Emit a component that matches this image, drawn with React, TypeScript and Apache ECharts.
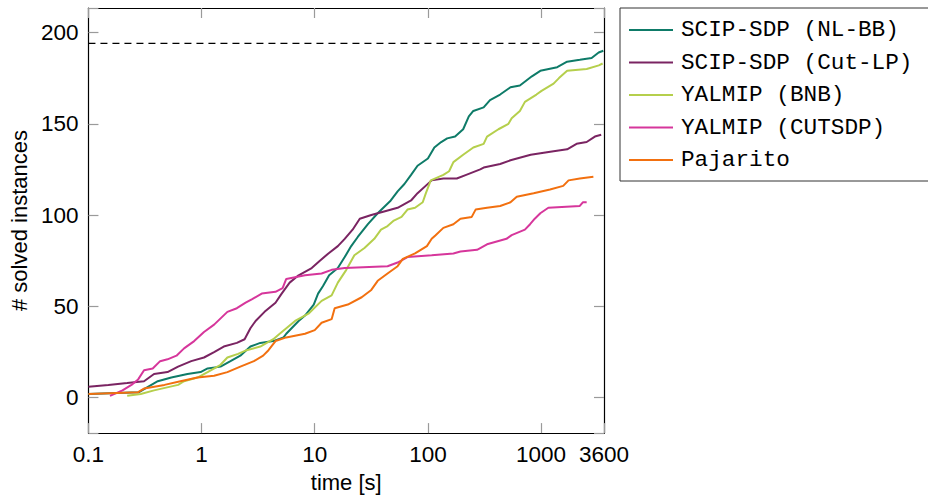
import React, { useEffect, useRef } from "react";
import * as echarts from "echarts";

const seriesNames = ["SCIP-SDP (NL-BB)", "SCIP-SDP (Cut-LP)", "YALMIP (BNB)", "YALMIP (CUTSDP)", "Pajarito"];
const seriesColors = ["#0e7b68", "#7a2462", "#b5cf4c", "#d6369b", "#f2700f"];

const nlbb: [number, number][] = [
  [0.1, 2], [0.28, 3], [0.36, 7], [0.41, 9], [0.54, 11], [0.75, 13], [0.98, 14], [1.13, 16], [1.47, 17],
  [1.8, 20], [2.2, 23], [2.7, 28], [3.3, 30], [4.3, 31], [5.3, 33], [5.6, 35], [7.2, 42], [8.2, 45],
  [9.8, 51], [10.7, 57], [11.8, 61], [13.4, 67], [16, 71], [18.4, 77], [21, 83], [24, 88], [29.5, 95],
  [36, 101], [47, 108], [54, 113], [62, 117], [71, 122], [81, 127], [100, 131], [114, 137], [131, 140],
  [148, 142], [174, 143], [205, 147], [230, 154], [252, 157], [311, 159], [354, 163], [435, 166],
  [537, 170], [650, 171], [830, 176], [985, 179], [1390, 181], [1700, 184], [2200, 185], [2800, 186],
  [3230, 189], [3550, 190],
];

const cutlp: [number, number][] = [
  [0.1, 6], [0.15, 7], [0.22, 8], [0.31, 9], [0.38, 13], [0.5, 14], [0.62, 17], [0.81, 20], [1.05, 22],
  [1.29, 25], [1.57, 28], [2.05, 30], [2.4, 32], [2.7, 38], [3, 42], [3.6, 47], [4.5, 52], [5.1, 57],
  [6, 63], [7.2, 67], [9.4, 71], [11.1, 75], [13.2, 79], [16, 83], [18.4, 87], [21.6, 92], [25, 98],
  [31.6, 100], [41, 102], [54, 104], [71, 108], [81, 112], [108, 119], [137, 120], [180, 120], [218, 122],
  [290, 125], [311, 126], [435, 128], [537, 130], [810, 133], [1290, 135], [1700, 136], [2060, 139],
  [2530, 140], [2990, 143], [3400, 144],
];

const bnb: [number, number][] = [
  [0.22, 1], [0.29, 2], [0.38, 4], [0.62, 7], [0.7, 9], [0.92, 11], [1.13, 14], [1.47, 18], [1.69, 22],
  [2.1, 24], [2.5, 26], [3.3, 28], [4.3, 32], [4.9, 35], [6.7, 42], [8.8, 46], [11.5, 53], [14.1, 56],
  [16, 63], [19, 70], [22.4, 78], [27.5, 82], [33.6, 87], [38.5, 92], [44, 94], [50, 97], [58.5, 99],
  [66, 103], [77, 104], [90, 107], [96, 112], [106, 119], [137, 122], [154, 124], [168, 129], [205, 133],
  [252, 137], [311, 139], [333, 143], [420, 147], [515, 150], [550, 153], [650, 157], [720, 162],
  [910, 166], [1010, 168], [1290, 172], [1440, 175], [1700, 179], [2530, 180], [3240, 182], [3500, 183],
];

const cutsdp: [number, number][] = [
  [0.155, 1], [0.2, 4], [0.24, 7], [0.275, 10], [0.31, 15], [0.37, 16], [0.43, 20], [0.5, 21], [0.6, 23],
  [0.7, 27], [0.86, 31], [1.05, 36], [1.29, 40], [1.69, 47], [2.05, 49], [2.45, 52], [2.8, 54], [3.4, 57],
  [4.5, 58], [5.2, 60], [5.6, 65], [8.2, 67], [11.5, 68], [14.1, 70], [18.4, 71], [44, 72], [54, 74],
  [66, 77], [108, 78], [168, 79], [194, 80], [272, 81], [333, 84], [495, 87], [550, 89], [720, 92],
  [800, 95], [880, 98], [985, 101], [1160, 104], [2200, 105], [2340, 107], [2530, 107],
];

const pajarito: [number, number][] = [
  [0.1, 2], [0.275, 3], [0.31, 5], [0.47, 7], [0.65, 9], [0.92, 11], [1.29, 12], [1.69, 14], [2.2, 17],
  [2.9, 20], [3.5, 23], [3.9, 26], [4.5, 31], [5.6, 33], [8.2, 35], [10, 37], [11.5, 41], [14.1, 43],
  [15, 49], [19.6, 51], [26, 55], [31.6, 59], [36, 64], [44, 68], [54, 72], [60, 76], [77, 79], [98, 83],
  [108, 87], [117, 89], [137, 93], [168, 95], [194, 98], [244, 99], [264, 103], [333, 104], [435, 105],
  [537, 107], [610, 110], [860, 112], [1200, 114], [1570, 116], [1750, 119], [2200, 120], [2900, 121],
];

const seriesData = [nlbb, cutlp, bnb, cutsdp, pajarito];

const totalInstances = 194;
const xMin = 0.1;
const xMax = 3600;
const yMin = -19.4;
const yMax = 213.4;
const xTickLabels = [0.1, 1, 10, 100, 1000, 3600];
const yTickLabels = [0, 50, 100, 150, 200];

const sansFont = "'Liberation Sans', Arial, Helvetica, sans-serif";
const monoFont = "'Liberation Mono', 'DejaVu Sans Mono', monospace";

export default function App() {
  const ref = useRef<HTMLDivElement>(null);

  useEffect(() => {
    if (!ref.current) return;
    const chart = echarts.init(ref.current, null, { renderer: "svg" });

    const axisLine = { show: true, onZero: false, lineStyle: { color: "#000", width: 1.2 } };
    const axisTick = { show: true, inside: true, length: 10, lineStyle: { color: "#9a9a9a", width: 1.2 } };
    const tickStyle = { fontFamily: sansFont, fontSize: 22.5, color: "#000" };
    const nameStyle = { fontFamily: sansFont, fontSize: 22, color: "#000" };

    const xFormatter = (v: number) => {
      const r = +Number(v).toPrecision(6);
      return xTickLabels.includes(r) ? String(r) : "";
    };
    const yFormatter = (v: number) => {
      const r = Math.round(v * 1000) / 1000;
      return yTickLabels.includes(r) ? String(r) : "";
    };

    chart.setOption({
      animation: false,
      backgroundColor: "#fff",
      grid: { left: 85, right: 324, top: 8, bottom: 58, containLabel: false },
      legend: {
        data: seriesNames,
        orient: "vertical",
        left: 620,
        top: 8,
        padding: [9, 18, 8, 9],
        itemGap: 6.5,
        itemWidth: 44,
        itemHeight: 2,
        icon: "rect",
        borderColor: "#333",
        borderWidth: 1,
        backgroundColor: "#fff",
        selectedMode: false,
        textStyle: { fontFamily: monoFont, fontSize: 22.7, color: "#000", lineHeight: 26, padding: [0, 0, 0, 3] },
      },
      xAxis: [
        {
          type: "log",
          logBase: 10,
          min: xMin,
          max: xMax,
          position: "bottom",
          name: "time [s]",
          nameLocation: "middle",
          nameGap: 34,
          nameTextStyle: nameStyle,
          axisLine,
          axisTick,
          minorTick: { show: false },
          splitLine: { show: false },
          axisLabel: { ...tickStyle, margin: 10, formatter: xFormatter, showMinLabel: true, showMaxLabel: true },
        },
        {
          type: "log",
          logBase: 10,
          min: xMin,
          max: xMax,
          position: "top",
          axisLine,
          axisTick,
          splitLine: { show: false },
          axisLabel: { show: false },
        },
      ],
      yAxis: [
        {
          type: "value",
          min: yMin,
          max: yMax,
          splitNumber: 5,
          position: "left",
          name: "# solved instances",
          nameLocation: "middle",
          nameGap: 56,
          nameTextStyle: nameStyle,
          axisLine,
          axisTick,
          splitLine: { show: false },
          axisLabel: { ...tickStyle, margin: 10, formatter: yFormatter },
        },
        {
          type: "value",
          min: yMin,
          max: yMax,
          splitNumber: 5,
          position: "right",
          axisLine,
          axisTick,
          splitLine: { show: false },
          axisLabel: { show: false },
        },
      ],
      series: [
        {
          type: "line",
          name: "total",
          data: [[xMin, totalInstances], [xMax, totalInstances]],
          symbol: "none",
          silent: true,
          lineStyle: { color: "#000", width: 1.2, type: [7, 5] },
          xAxisIndex: 0,
          yAxisIndex: 0,
        },
        ...seriesNames.map((name, i) => ({
          type: "line",
          name,
          data: seriesData[i],
          symbol: "none",
          showSymbol: false,
          xAxisIndex: 0,
          yAxisIndex: 0,
          lineStyle: { color: seriesColors[i], width: 2 },
          itemStyle: { color: seriesColors[i] },
        })),
      ],
    });

    return () => chart.dispose();
  }, []);

  return <div ref={ref} style={{ position: "fixed", left: 0, top: 0, width: 928, height: 498 }} />;
}
